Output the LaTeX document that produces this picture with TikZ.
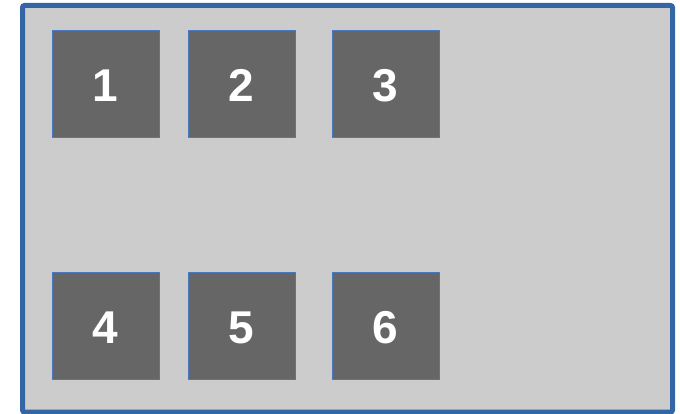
\documentclass[tikz,border=0pt]{standalone}
\usepackage{fontspec}
\setmainfont{Liberation Sans}
\definecolor{outerblue}{HTML}{3465A4}
\definecolor{boxblue}{HTML}{4A78C0}
\definecolor{bg}{HTML}{CCCCCC}
\definecolor{boxfill}{HTML}{666666}
\begin{document}
\begin{tikzpicture}[x=1pt,y=-1pt,
  cell/.style={draw=boxblue,line width=0.9pt,fill=boxfill,minimum width=107pt,minimum height=107pt,inner sep=0pt,text height=36pt,text depth=0pt,text=white,font=\fontsize{46}{46}\selectfont\bfseries}]
\useasboundingbox (0,0) rectangle (680,414);
\draw[outerblue,line width=5pt,fill=bg,rounded corners=2pt] (22.5,5.5) rectangle (672.5,412);
\node[cell] (n1) at (105.5,83.5) {1};
\node[cell] (n2) at (241.5,83.5) {2};
\node[cell] (n3) at (385.5,83.5) {3};
\node[cell] (n4) at (105.5,325.5) {4};
\node[cell] (n5) at (241.5,325.5) {5};
\node[cell] (n6) at (385.5,325.5) {6};
\end{tikzpicture}
\end{document}
